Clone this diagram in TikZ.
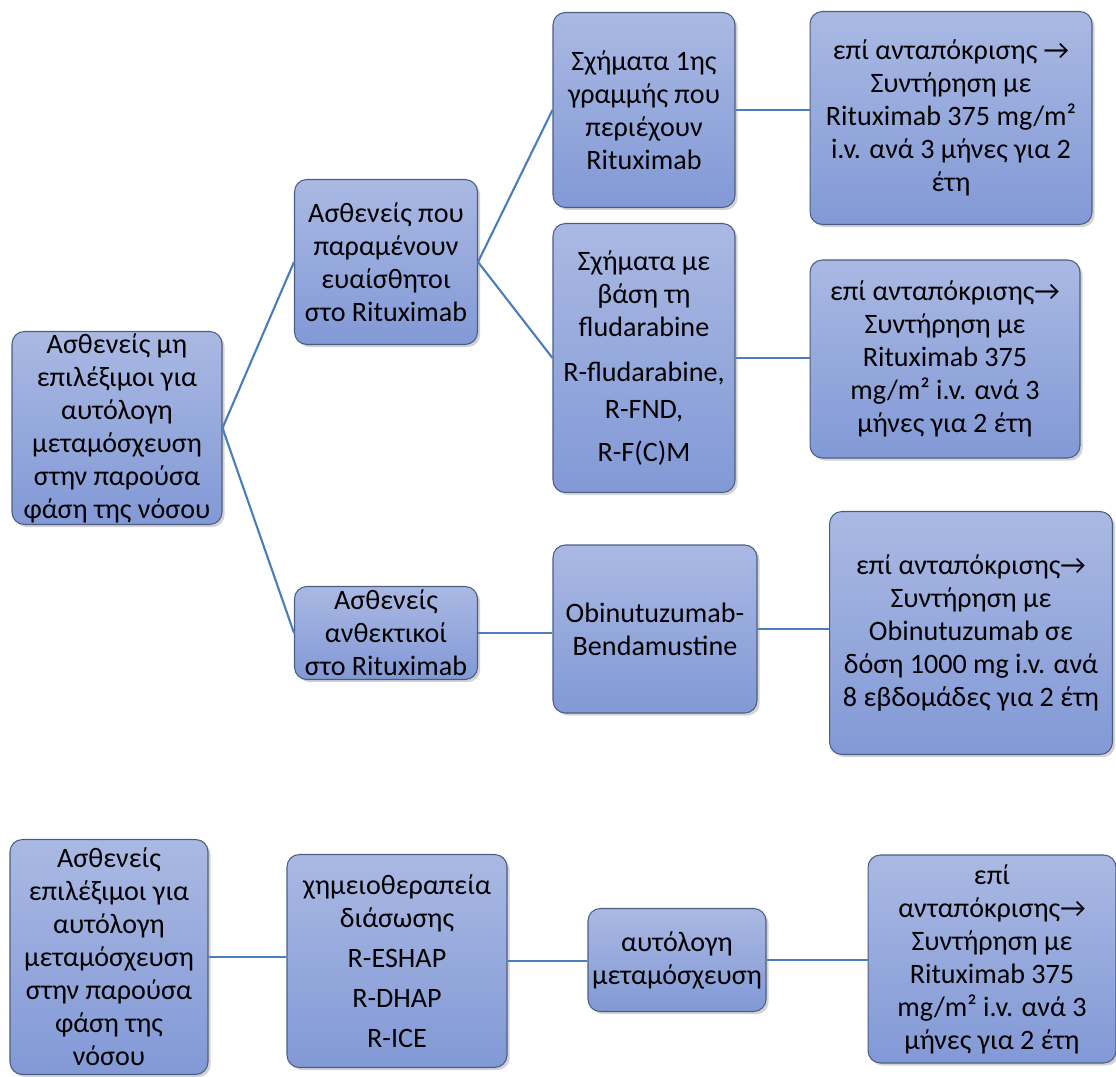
\documentclass[tikz,border=0pt]{standalone}
\usepackage{fontspec}
\setmainfont{Carlito}
\usepackage{tikz}
\usetikzlibrary{shadows}
\definecolor{boxtop}{HTML}{AAB9E3}
\definecolor{boxbot}{HTML}{8299D6}
\definecolor{boxline}{HTML}{4B5E82}
\definecolor{linkblue}{HTML}{4A7EBB}
\newcommand{\rarr}{→}

\begin{document}
\begin{tikzpicture}[x=0.02cm, y=-0.02cm,
    box/.style={rectangle, rounded corners=7pt, draw=boxline, line width=0.6pt,
      top color=boxtop, bottom color=boxbot, align=center, inner sep=0pt,
      font=\fontsize{16}{18.8}\selectfont,
      drop shadow={opacity=0.35, shadow xshift=1.5pt, shadow yshift=-1.5pt}},
    link/.style={draw=linkblue, line width=1.2pt}]
        \useasboundingbox (0,0) rectangle (1116,1077);
        % Nodes
        \node[box, minimum width=4.2cm, minimum height=3.86cm] (noauto) at (117, 428)
          {Ασθενείς μη\\επιλέξιμοι για\\αυτόλογη\\μεταμόσχευση\\στην παρούσα\\φάση της νόσου};
        \node[box, minimum width=3.66cm, minimum height=3.3cm] (sens) at (386, 262)
          {Ασθενείς που\\παραμένουν\\ευαίσθητοι\\στο Rituximab};
        \node[box, minimum width=3.64cm, minimum height=3.9cm] (first) at (644, 110)
          {Σχήματα 1ης\\γραμμής που\\περιέχουν\\Rituximab};
        \node[box, minimum width=5.64cm, minimum height=4.26cm] (mainta) at (951, 118)
          {επί ανταπόκρισης \rarr\\Συντήρηση με\\Rituximab 375 mg/m²\\i.v. ανά 3 μήνες για 2\\έτη};
        \node[box, minimum width=3.64cm, minimum height=5.38cm] (fluda) at (644, 358)
          {Σχήματα με\\βάση τη\\fludarabine\\[7pt]R-fludarabine,\\[2pt]R-FND,\\[6pt]R-F(C)M};
        \node[box, minimum width=5.4cm, minimum height=3.96cm] (maintb) at (945, 359)
          {επί ανταπόκρισης\rarr\\Συντήρηση με\\Rituximab 375\\mg/m² i.v. ανά 3\\μήνες για 2 έτη};
        \node[box, minimum width=3.66cm, minimum height=1.86cm] (resist) at (386, 633)
          {Ασθενείς\\ανθεκτικοί\\στο Rituximab};
        \node[box, minimum width=4.08cm, minimum height=3.36cm] (obinu) at (655, 629)
          {Obinutuzumab-\\Bendamustine};
        \node[box, minimum width=5.66cm, minimum height=4.86cm] (maintc) at (971, 633)
          {επί ανταπόκρισης\rarr\\Συντήρηση με\\Obinutuzumab σε\\δόση 1000 mg i.v. ανά\\8 εβδομάδες για 2 έτη};
        \node[box, minimum width=3.96cm, minimum height=4.7cm] (auto) at (109, 957)
          {Ασθενείς\\επιλέξιμοι για\\αυτόλογη\\μεταμόσχευση\\στην παρούσα\\φάση της\\νόσου};
        \node[box, minimum width=4.4cm, minimum height=4.26cm] (salv) at (397, 961)
          {χημειοθεραπεία\\διάσωσης\\[4pt]R-ESHAP\\[4pt]R-DHAP\\[4pt]R-ICE};
        \node[box, minimum width=3.56cm, minimum height=2.06cm] (asct) at (677, 960)
          {αυτόλογη\\μεταμόσχευση};
        \node[box, minimum width=4.96cm, minimum height=4.16cm] (maintd) at (992, 959)
          {επί\\ανταπόκρισης\rarr\\Συντήρηση με\\Rituximab 375\\mg/m² i.v. ανά 3\\μήνες για 2 έτη};

        % Connectors
        \draw[link] (noauto.east) -- (sens.west);
        \draw[link] (noauto.east) -- (resist.west);
        \draw[link] (sens.east) -- (first.west);
        \draw[link] (sens.east) -- (fluda.west);
        \draw[link] (first.east) -- (first.east -| mainta.west);
        \draw[link] (fluda.east) -- (fluda.east -| maintb.west);
        \draw[link] (resist.east) -- (obinu.west |- resist.east);
        \draw[link] (obinu.east) -- (obinu.east -| maintc.west);
        \draw[link] (auto.east) -- (auto.east -| salv.west);
        \draw[link] (salv.east) -- (salv.east -| asct.west);
        \draw[link] (asct.east) -- (asct.east -| maintd.west);
    \end{tikzpicture}
\end{document}
